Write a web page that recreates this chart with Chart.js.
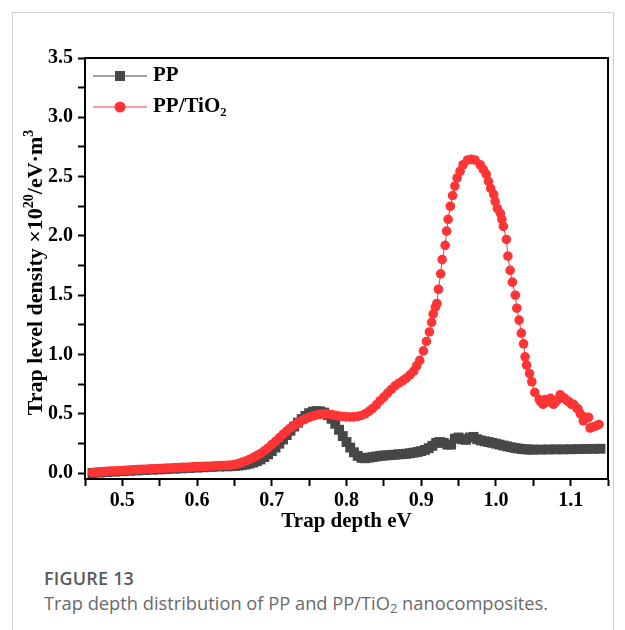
<!DOCTYPE html>
<html>
<head>
<meta charset="utf-8">
<script src="https://cdn.jsdelivr.net/npm/chart.js@4.4.0/dist/chart.umd.min.js"></script>
<style>
  html, body { margin: 0; padding: 0; background: #fff; }
  #wrap { position: relative; width: 625px; height: 630px; overflow: hidden; }
  #frame { position: absolute; left: 12px; top: 12px; width: 600px; height: 640px; border: 1px solid #d0d0d0; }
  #c { position: absolute; left: 0; top: 0; }
  .cap1 { position: absolute; left: 44px; top: 566px; font-family: "Open Sans", sans-serif; font-size: 18px; font-weight: 600; color: #5a5a5a; letter-spacing: 0.2px; }
  .cap2 { position: absolute; left: 44px; top: 590px; font-family: "Open Sans", sans-serif; font-size: 18.3px; color: #6a6a6a; }
  .cap2 sub { font-size: 13px; vertical-align: -3px; line-height: 0; }
</style>
</head>
<body>
<div id="wrap">
  <div id="frame"></div>
  <canvas id="c" width="625" height="560"></canvas>
  <div class="cap1">FIGURE 13</div>
  <div class="cap2">Trap depth distribution of PP and PP/TiO<sub>2</sub> nanocomposites.</div>
</div>
<script>
// ---- data ----
const seriesNames = ["PP", "PP/TiO\u2082"];

const ppX = [
  0.460,0.470,0.480,0.490,0.500,0.510,0.520,0.530,0.540,0.550,0.560,0.570,0.580,0.590,0.600,0.610,0.620,0.630,0.640,0.645,
  0.650,0.655,0.660,0.665,0.670,0.675,0.680,0.685,0.690,0.695,0.700,0.705,0.710,0.715,0.720,0.725,0.730,0.735,0.740,0.745,
  0.750,0.755,0.760,0.765,0.770,0.775,0.780,0.785,0.790,0.795,0.800,0.805,0.810,0.815,0.820,0.825,0.830,0.835,0.840,0.845,
  0.850,0.855,0.860,0.865,0.870,0.875,0.880,0.885,0.890,0.895,0.900,0.905,0.910,0.915,0.920,0.925,0.930,0.935,0.940,0.945,
  0.950,0.955,0.960,0.965,0.970,0.975,0.980,0.985,0.990,0.995,1.000,1.005,1.010,1.015,1.020,1.025,1.030,1.035,1.040,1.045,
  1.050,1.060,1.070,1.080,1.090,1.100,1.110,1.120,1.130,1.140
];
const ppY = [
  0.000,0.004,0.008,0.012,0.016,0.019,0.022,0.025,0.028,0.031,0.034,0.037,0.040,0.043,0.046,0.049,0.052,0.055,0.057,0.058,
  0.060,0.063,0.067,0.072,0.079,0.088,0.100,0.115,0.135,0.158,0.185,0.215,0.248,0.283,0.320,0.357,0.392,0.425,0.455,0.482,
  0.505,0.518,0.522,0.520,0.510,0.490,0.458,0.415,0.365,0.312,0.262,0.215,0.175,0.145,0.128,0.125,0.130,0.135,0.140,0.145,
  0.148,0.150,0.152,0.155,0.158,0.160,0.163,0.167,0.172,0.178,0.185,0.195,0.210,0.230,0.255,0.262,0.255,0.240,0.240,0.290,
  0.300,0.285,0.280,0.300,0.305,0.285,0.275,0.268,0.262,0.255,0.248,0.240,0.232,0.225,0.218,0.212,0.207,0.203,0.200,0.198,
  0.198,0.198,0.199,0.200,0.200,0.201,0.202,0.203,0.204,0.205
];

const tiX = [
  0.460,0.465,0.470,0.475,0.480,0.485,0.490,0.495,0.500,0.505,0.510,0.515,0.520,0.525,0.530,0.535,0.540,0.545,0.550,0.555,
  0.560,0.565,0.570,0.575,0.580,0.585,0.590,0.595,0.600,0.605,0.610,0.615,0.620,0.625,0.630,0.635,0.640,0.645,0.650,0.655,
  0.660,0.665,0.670,0.675,0.680,0.685,0.690,0.695,0.700,0.705,0.710,0.715,0.720,0.725,0.730,0.735,0.740,0.745,0.750,0.755,
  0.760,0.765,0.770,0.775,0.780,0.785,0.790,0.795,0.800,0.805,0.810,0.815,0.820,0.825,0.830,0.835,0.840,0.845,0.850,0.855,
  0.860,0.865,0.870,0.875,0.880,0.885,0.890,0.894,0.898,0.903,0.907,0.911,0.914,0.916,0.919,0.921,0.923,0.926,0.928,0.932,
  0.934,0.936,0.939,0.942,0.945,0.948,0.952,0.956,0.962,0.967,0.972,0.979,0.983,0.987,0.990,0.993,0.997,0.999,1.002,1.006,
  1.008,1.010,1.014,1.016,1.019,1.022,1.026,1.028,1.031,1.034,1.037,1.039,1.041,1.045,1.048,1.052,1.058,1.060,1.063,1.066,
  1.070,1.073,1.077,1.080,1.083,1.086,1.089,1.092,1.095,1.098,1.101,1.104,1.108,1.110,1.113,1.117,1.120,1.124,1.126,1.130,
  1.135,1.138
];
const tiY = [
  0.005,0.008,0.010,0.012,0.014,0.016,0.018,0.020,0.022,0.024,0.025,0.027,0.029,0.031,0.032,0.034,0.036,0.037,0.039,0.040,
  0.042,0.043,0.045,0.046,0.048,0.049,0.051,0.052,0.054,0.055,0.057,0.058,0.060,0.061,0.063,0.064,0.066,0.068,0.072,0.080,
  0.090,0.102,0.115,0.130,0.147,0.165,0.188,0.212,0.240,0.268,0.297,0.326,0.354,0.380,0.403,0.424,0.442,0.457,0.470,0.481,
  0.490,0.496,0.499,0.498,0.493,0.487,0.481,0.477,0.474,0.473,0.474,0.478,0.486,0.500,0.520,0.545,0.575,0.610,0.640,0.675,
  0.705,0.735,0.758,0.778,0.800,0.828,0.860,0.905,0.950,1.030,1.110,1.190,1.270,1.340,1.400,1.430,1.550,1.680,1.800,1.920,
  2.040,2.140,2.250,2.340,2.420,2.490,2.545,2.600,2.640,2.645,2.640,2.600,2.560,2.520,2.460,2.400,2.350,2.290,2.230,2.190,
  2.140,2.080,1.970,1.830,1.710,1.610,1.500,1.390,1.290,1.180,1.090,0.980,0.910,0.840,0.770,0.680,0.620,0.600,0.580,0.620,
  0.600,0.630,0.580,0.600,0.620,0.660,0.640,0.630,0.610,0.600,0.580,0.580,0.550,0.540,0.500,0.440,0.470,0.470,0.380,0.390,
  0.400,0.410
];

const xMin = 0.45, xMax = 1.15, xStep = 0.05;
const yMin = -0.05, yMax = 3.5;
const yTickValues = [0,0.25,0.5,0.75,1.0,1.25,1.5,1.75,2.0,2.25,2.5,2.75,3.0,3.25,3.5];
const xTitle = "Trap depth eV";
// y title pieces: [text, isSuperscript]
const yTitleParts = [["Trap level density \u00d710", false], ["20", true], ["/eV\u00b7m", false], ["3", true]];

const toPts = (xs, ys) => xs.map((x, i) => ({ x: x, y: ys[i] }));

const GRAY = "#474747", RED = "#ff3434";
const SERIF = "'Liberation Serif', 'Times New Roman', serif";
const CANVAS_H = 560;

const framePlugin = {
  id: "frame",
  afterDraw(chart) {
    const { ctx, chartArea: a } = chart;
    ctx.save();
    ctx.strokeStyle = "#000";
    ctx.lineWidth = 2;
    ctx.strokeRect(a.left, a.top, a.right - a.left, a.bottom - a.top);
    ctx.restore();
  }
};

const yTitlePlugin = {
  id: "yTitle",
  afterDraw(chart) {
    const { ctx, chartArea: a } = chart;
    const big = "bold 22px " + SERIF, small = "bold 14px " + SERIF;
    ctx.save();
    let total = 0;
    yTitleParts.forEach(([t, sup]) => { ctx.font = sup ? small : big; total += ctx.measureText(t).width; });
    const cy = (a.top + a.bottom) / 2 + 4;
    ctx.translate(36, cy);
    ctx.rotate(-Math.PI / 2);
    ctx.fillStyle = "#000";
    ctx.textBaseline = "middle";
    ctx.textAlign = "left";
    let x = -total / 2;
    yTitleParts.forEach(([t, sup]) => {
      ctx.font = sup ? small : big;
      ctx.fillText(t, x, sup ? -7 : 0);
      x += ctx.measureText(t).width;
    });
    ctx.restore();
  }
};

const legendPlugin = {
  id: "insideLegend",
  afterDraw(chart) {
    const { ctx, chartArea: a } = chart;
    const items = [
      { name: seriesNames[0], color: GRAY, style: "rect", dy: 18 },
      { name: seriesNames[1], color: RED, style: "circle", dy: 49 }
    ];
    ctx.save();
    items.forEach(it => {
      const y = a.top + it.dy;
      const x0 = a.left + 8, x1 = a.left + 62, xm = (x0 + x1) / 2;
      ctx.strokeStyle = it.color;
      ctx.lineWidth = 1;
      ctx.beginPath(); ctx.moveTo(x0, y); ctx.lineTo(x1, y); ctx.stroke();
      ctx.fillStyle = it.color;
      if (it.style === "rect") ctx.fillRect(xm - 5, y - 5, 10, 10);
      else { ctx.beginPath(); ctx.arc(xm, y, 5.5, 0, Math.PI * 2); ctx.fill(); }
      ctx.fillStyle = "#000";
      ctx.font = "bold 21px " + SERIF;
      ctx.textBaseline = "middle";
      ctx.textAlign = "left";
      ctx.fillText(it.name, a.left + 68, y);
    });
    ctx.restore();
  }
};

new Chart(document.getElementById("c"), {
  type: "scatter",
  data: {
    datasets: [
      {
        label: seriesNames[0],
        data: toPts(ppX, ppY),
        order: 2,
        showLine: true,
        borderColor: GRAY,
        backgroundColor: GRAY,
        borderWidth: 1,
        pointStyle: "rect",
        pointRadius: 7,
        pointBorderWidth: 0,
        pointHoverRadius: 7
      },
      {
        label: seriesNames[1],
        data: toPts(tiX, tiY),
        order: 1,
        showLine: true,
        borderColor: RED,
        backgroundColor: RED,
        borderWidth: 1,
        pointStyle: "circle",
        pointRadius: 4.8,
        pointBorderWidth: 0,
        pointHoverRadius: 4.8
      }
    ]
  },
  options: {
    responsive: false,
    animation: false,
    events: [],
    layout: { padding: { top: 58, right: 17, left: 0, bottom: 0 } },
    plugins: { legend: { display: false }, tooltip: { enabled: false } },
    scales: {
      x: {
        type: "linear",
        min: xMin, max: xMax,
        afterFit(s) { s.height = CANVAS_H - 479; },
        ticks: {
          stepSize: xStep,
          autoSkip: false,
          maxRotation: 0,
          padding: 3,
          color: "#000",
          font: { family: SERIF, size: 20, weight: "bold" },
          callback(v) {
            const k = Math.round(v * 100);
            return (k % 10 === 0 && k <= 110 && k >= 50) ? (k / 100).toFixed(1) : "";
          }
        },
        grid: {
          drawOnChartArea: false, drawTicks: true, tickLength: 7,
          tickColor: "#000", tickWidth: 2
        },
        border: { display: true, color: "#000", width: 2 },
        title: {
          display: true, text: xTitle, color: "#000",
          font: { family: SERIF, size: 21, weight: "bold" },
          padding: { top: 0, bottom: 26 }
        }
      },
      y: {
        type: "linear",
        min: yMin, max: yMax,
        afterFit(s) { s.width = 85; },
        afterBuildTicks(s) { s.ticks = yTickValues.map(v => ({ value: v })); },
        ticks: {
          padding: 5,
          color: "#000",
          font: { family: SERIF, size: 20, weight: "bold" },
          callback(v) {
            const k = Math.round(v * 100);
            return (k % 50 === 0) ? (k / 100).toFixed(1) : "";
          }
        },
        grid: {
          drawOnChartArea: false, drawTicks: true, tickLength: 7,
          tickColor: "#000", tickWidth: 2
        },
        border: { display: true, color: "#000", width: 2 },
        title: { display: false }
      }
    }
  },
  plugins: [framePlugin, yTitlePlugin, legendPlugin]
});
</script>
</body>
</html>
